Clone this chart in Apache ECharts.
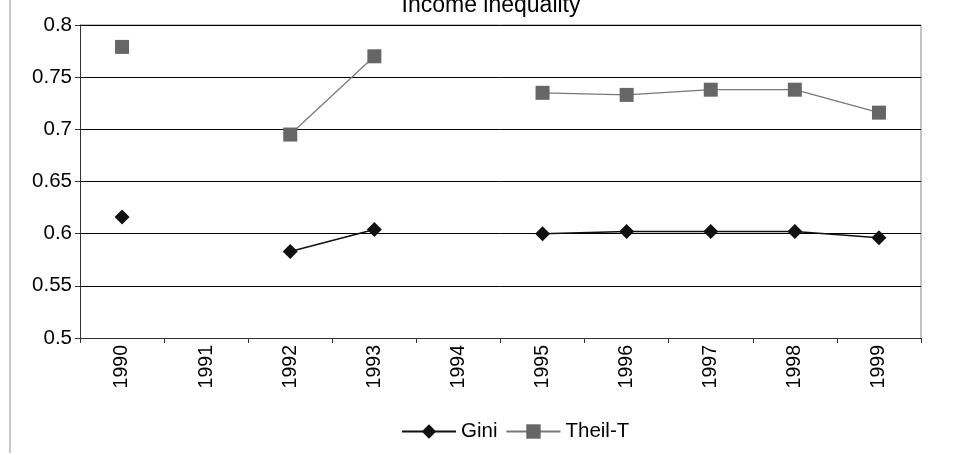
<!DOCTYPE html>
<html><head><meta charset="utf-8">
<script src="https://cdn.jsdelivr.net/npm/echarts@6/dist/echarts.min.js"></script>
<style>html,body{margin:0;padding:0;background:#fff}#c{width:956px;height:455px}</style>
</head><body><div id="c"></div>
<script>
const years = ['1990','1991','1992','1993','1994','1995','1996','1997','1998','1999'];
const gini = [0.616, null, 0.583, 0.604, null, 0.600, 0.602, 0.602, 0.602, 0.596];
const theil = [0.779, null, 0.695, 0.770, null, 0.735, 0.733, 0.738, 0.738, 0.716];
const yTicks = {min: 0.5, max: 0.8, interval: 0.05};

const chart = echarts.init(document.getElementById('c'));
const font = 'Liberation Sans, Arial, sans-serif';
chart.setOption({
  animation: false,
  title: {text: 'Income inequality', left: 486, textAlign: 'center', top: -11,
    textStyle: {fontFamily: font, fontWeight: 'normal', fontSize: 23, color: '#000'}},
  graphic: [
    {type: 'line', shape: {x1: 10, y1: 0, x2: 10, y2: 453}, style: {stroke: '#c8c8c8', lineWidth: 2}},
    {type: 'line', shape: {x1: 80, y1: 25, x2: 921, y2: 25}, style: {stroke: '#888', lineWidth: 1}},
    {type: 'line', shape: {x1: 921, y1: 25, x2: 921, y2: 338}, style: {stroke: '#888', lineWidth: 1}}
  ],
  grid: {left: 80, right: 35, top: 25, bottom: 117, containLabel: false},
  legend: {bottom: 8, left: 396, itemWidth: 54, itemHeight: 18, itemGap: 8,
    textStyle: {fontFamily: font, fontSize: 20.5, color: '#000'},
    data: ['Gini', 'Theil-T']},
  xAxis: {type: 'category', data: years, boundaryGap: true,
    axisLine: {lineStyle: {color: '#333', width: 1}},
    axisTick: {show: true, length: 5, lineStyle: {color: '#333'}},
    axisLabel: {rotate: 90, fontFamily: font, fontSize: 19.5, color: '#000', margin: 7}},
  yAxis: {type: 'value', min: yTicks.min, max: yTicks.max, interval: yTicks.interval,
    axisLine: {show: true, lineStyle: {color: '#333', width: 1}},
    axisTick: {show: true, length: 5, lineStyle: {color: '#333'}},
    axisLabel: {fontFamily: font, fontSize: 20.5, color: '#000', margin: 8},
    splitLine: {lineStyle: {color: '#000', width: 1}}},
  series: [
    {name: 'Gini', type: 'line', data: gini, connectNulls: false,
     symbol: 'diamond', symbolSize: 15, color: '#111',
     lineStyle: {color: '#111', width: 1.5}, itemStyle: {color: '#111'}},
    {name: 'Theil-T', type: 'line', data: theil, connectNulls: false,
     symbol: 'rect', symbolSize: 14, color: '#666',
     lineStyle: {color: '#777', width: 1.2}, itemStyle: {color: '#666'}}
  ]
});
</script></body></html>
